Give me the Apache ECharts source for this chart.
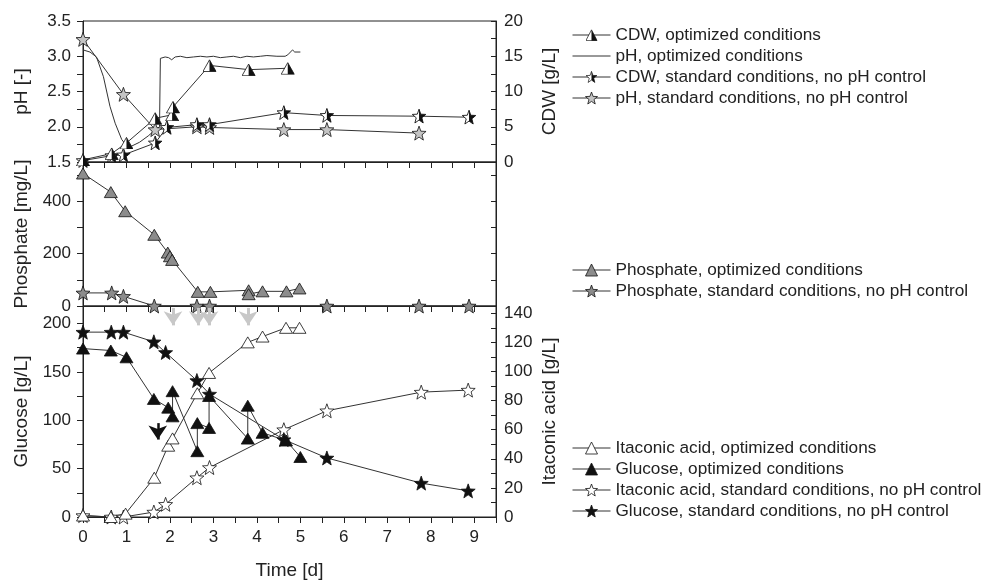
<!DOCTYPE html>
<html>
<head>
<meta charset="utf-8">
<script src="https://cdn.jsdelivr.net/npm/echarts@6.0.0/dist/echarts.min.js"></script>
<style>
  html, body { margin: 0; padding: 0; background: #fff; }
  #chart { width: 990px; height: 581px; }
</style>
</head>
<body>
<div id="chart"></div>
<script>
  // ---- top panel: pH (left) and CDW (right) ----
  var cdwOptT = [0, 0.66, 1.0, 1.66, 2.05, 2.07, 2.91, 3.81, 4.71]
  var cdwOptV = [0.3, 1.2, 2.7, 6.2, 6.7, 7.8, 13.7, 13.1, 13.3]
  var phOptT = [0, 0.16, 0.31, 0.47, 0.62, 0.74, 0.89, 0.99, 1.1, 1.3, 1.5, 1.65, 1.76, 1.78,
    1.89, 1.97, 2.04, 2.12, 2.24, 2.39, 2.54, 2.7, 2.85, 3.0, 3.16, 3.31, 3.46, 3.62, 3.77,
    3.92, 4.08, 4.23, 4.46, 4.65, 4.71, 4.82, 4.87, 5.0]
  var phOptV = [3.09, 3.06, 2.99, 2.71, 2.29, 2.05, 1.82, 1.74, 1.72, 1.78, 1.87, 1.95, 2.0, 2.97,
    2.99, 2.98, 2.95, 2.99, 3.0, 2.98, 2.99, 3.0, 2.99, 3.0, 2.98, 2.99, 3.0, 2.98, 3.0,
    2.99, 3.0, 3.01, 3.0, 3.0, 3.02, 3.09, 3.06, 3.06]
  var cdwStdT = [0, 0.66, 0.93, 1.66, 1.93, 2.62, 2.91, 4.62, 5.61, 7.73, 8.88]
  var cdwStdV = [0.2, 0.9, 1.0, 2.7, 4.9, 5.3, 5.3, 7.0, 6.6, 6.5, 6.35]
  var phStdT = [0, 0.93, 1.66, 2.62, 2.91, 4.62, 5.61, 7.73]
  var phStdV = [3.24, 2.46, 1.96, 2.0, 1.99, 1.96, 1.96, 1.91]

  // ---- middle panel: phosphate ----
  var phosOptT = [0, 0.64, 0.97, 1.64, 1.95, 2.0, 2.05, 2.64, 2.93, 3.81, 3.81, 4.13, 4.68, 4.98]
  var phosOptV = [506, 435, 362, 272, 204, 190, 176, 54, 54, 60, 45, 56, 56, 67]
  var phosStdT = [0, 0.66, 0.93, 1.64, 2.62, 2.91, 5.61, 7.73, 8.88]
  var phosStdV = [50, 50, 37, 0, 0, 0, 0, 0, 0]

  // ---- bottom panel: glucose (left) and itaconic acid (right) ----
  var itaOptT = [0, 0.64, 0.98, 1.64, 1.96, 2.06, 2.63, 2.9, 3.79, 4.13, 4.67, 4.98]
  var itaOptV = [1, 0, 2.3, 27, 49, 54, 85, 99, 120, 124, 130, 130]
  var gluOptT = [0, 0.64, 1.0, 1.63, 1.96, 2.06, 2.06, 2.63, 2.63, 2.9, 2.9, 3.79, 3.79, 4.13, 4.67, 5.0]
  var gluOptV = [174, 172, 165, 122, 113, 104, 130, 68, 97, 92, 125, 81, 115, 87, 79, 62]
  var itaStdT = [0, 0.65, 0.93, 1.63, 1.9, 2.62, 2.91, 4.62, 5.61, 7.78, 8.86]
  var itaStdV = [1, 0, 0, 3.4, 8.7, 27, 34, 60, 73, 85.8, 87.2]
  var gluStdT = [0, 0.65, 0.93, 1.63, 1.9, 2.62, 2.91, 4.62, 5.61, 7.78, 8.86]
  var gluStdV = [191, 191, 191, 181, 170, 141, 127, 80, 61, 35, 27]

  // feeding arrows (time in d, glucose from/to)
  var feedTimes = [2.07, 2.65, 2.9, 3.8]
  var feedFrom = 216
  var feedTo = 198
  var blackArrow = [1.72, 97, 80]

  var FONT = '"Liberation Sans", Arial, Helvetica, sans-serif'
  var INK = '#222'

  var STAR = '0,-50 12.3,-17 47.6,-15.5 20,6.5 29.4,40.5 0,21 -29.4,40.5 -20,6.5 -47.6,-15.5 -12.3,-17'
  var TRI = '0,-46 50,42 -50,42'
  var starPath = 'path://M0,-50L12.3,-17L47.6,-15.5L20,6.5L29.4,40.5L0,21L-29.4,40.5L-20,6.5L-47.6,-15.5L-12.3,-17Z'

  // marker with the left half white and the right half black
  function halfIcon (pts) {
    var svg = "<svg xmlns='http://www.w3.org/2000/svg' viewBox='-53 -53 106 98'>" +
      "<defs><clipPath id='r'><rect x='0' y='-60' width='60' height='120'/></clipPath></defs>" +
      "<polygon points='" + pts + "' fill='#fff'/>" +
      "<polygon points='" + pts + "' fill='#111' clip-path='url(#r)'/>" +
      "<polygon points='" + pts + "' fill='none' stroke='#111' stroke-width='6' stroke-linejoin='round'/></svg>"
    return 'image://data:image/svg+xml;charset=utf-8,' + encodeURIComponent(svg)
  }

  function pairs (t, v) {
    return t.map(function (x, i) { return [x, v[i]] })
  }

  function isMultiple (v, step) {
    return Math.abs(v / step - Math.round(v / step)) < 1e-6
  }

  function xAxisFor (gridIndex, showLabels) {
    return {
      type: 'value', gridIndex: gridIndex, min: 0, max: 9.5, interval: 0.5,
      axisLine: { show: true, onZero: false, lineStyle: { color: INK } },
      axisTick: { show: true, inside: false, length: 6, lineStyle: { color: INK } },
      splitLine: { show: false },
      axisLabel: {
        show: showLabels, color: INK, fontSize: 17, fontFamily: FONT, margin: 12,
        formatter: function (v) { return isMultiple(v, 1) ? String(v) : '' }
      },
      name: showLabels ? 'Time [d]' : '',
      nameLocation: 'middle', nameGap: 44,
      nameTextStyle: { color: INK, fontSize: 19, fontFamily: FONT }
    }
  }

  function yAxisFor (gridIndex, side, min, max, interval, labelStep, name, nameGap, digits) {
    var left = side === 'left'
    return {
      type: 'value', gridIndex: gridIndex, position: side, min: min, max: max, interval: interval,
      axisLine: { show: true, onZero: false, lineStyle: { color: INK } },
      axisTick: { show: true, inside: !left, length: left ? 6 : 5, lineStyle: { color: INK } },
      splitLine: { show: false },
      axisLabel: {
        show: labelStep > 0, color: INK, fontSize: 17, fontFamily: FONT, margin: left ? 12 : 8,
        formatter: function (v) {
          return labelStep > 0 && isMultiple(v, labelStep) ? v.toFixed(digits || 0) : ''
        }
      },
      name: name, nameLocation: 'middle', nameGap: nameGap,
      nameTextStyle: { color: INK, fontSize: 19, fontFamily: FONT }
    }
  }

  function lineSeries (name, xi, yi, data, symbol, size, fill, extra) {
    var s = {
      name: name, type: 'line', xAxisIndex: xi, yAxisIndex: yi, data: data,
      symbol: symbol, symbolSize: size, showAllSymbol: true,
      lineStyle: { color: '#333', width: 1 },
      itemStyle: { color: fill, borderColor: '#111', borderWidth: 0.8 },
      emphasis: { disabled: true },
      z: 3
    }
    return Object.assign(s, extra || {})
  }

  var legendBase = {
    orient: 'vertical', left: 567, itemWidth: 38, itemHeight: 15, itemGap: 3,
    selectedMode: false,
    lineStyle: { width: 1, color: '#333' },
    itemStyle: { borderWidth: 0.8 },
    textStyle: { color: INK, fontSize: 17.2, fontFamily: FONT, lineHeight: 18 }
  }

  var arrowLines = feedTimes.map(function (t) {
    return [
      { coord: [t, feedFrom], lineStyle: { color: '#c8c8c8', width: 3, type: 'solid' } },
      { coord: [t, feedTo], lineStyle: { color: '#c8c8c8', width: 3, type: 'solid' } }
    ]
  })
  arrowLines.push([
    { coord: [blackArrow[0], blackArrow[1]], lineStyle: { color: '#111', width: 2.5, type: 'solid' } },
    { coord: [blackArrow[0], blackArrow[2]], lineStyle: { color: '#111', width: 2.5, type: 'solid' } }
  ])

  var chart = echarts.init(document.getElementById('chart'), null, { renderer: 'canvas' })
  chart.setOption({
    animation: false,
    backgroundColor: '#fff',
    grid: [
      { left: 83, right: 494, top: 21, height: 141, show: true, borderColor: INK, borderWidth: 1 },
      { left: 83, right: 494, top: 162, height: 144, show: true, borderColor: INK, borderWidth: 1 },
      { left: 83, right: 494, top: 306, height: 212, show: true, borderColor: INK, borderWidth: 1 }
    ],
    xAxis: [xAxisFor(0, false), xAxisFor(1, false), xAxisFor(2, true)],
    yAxis: [
      yAxisFor(0, 'left', 1.5, 3.5, 0.25, 0.5, 'pH [-]', 52, 1),
      yAxisFor(0, 'right', 0, 20, 2.5, 5, 'CDW [g/L]', 44),
      yAxisFor(1, 'left', 0, 550, 100, 200, 'Phosphate [mg/L]', 52),
      yAxisFor(1, 'right', 0, 550, 100, 0, '', 0),
      yAxisFor(2, 'left', 0, 218, 25, 50, 'Glucose [g/L]', 52),
      yAxisFor(2, 'right', 0, 145, 10, 20, 'Itaconic acid [g/L]', 44)
    ],
    legend: [
      Object.assign({}, legendBase, {
        top: 21,
        data: ['CDW, optimized conditions',
          { name: 'pH, optimized conditions', itemStyle: { color: 'rgba(0,0,0,0)', borderColor: 'rgba(0,0,0,0)', borderWidth: 0 } },
          'CDW, standard conditions, no pH control', 'pH, standard conditions, no pH control']
      }),
      Object.assign({}, legendBase, {
        top: 256,
        data: ['Phosphate, optimized conditions', 'Phosphate, standard conditions, no pH control']
      }),
      Object.assign({}, legendBase, {
        top: 434,
        data: ['Itaconic acid, optimized conditions', 'Glucose, optimized conditions',
          'Itaconic acid, standard conditions, no pH control', 'Glucose, standard conditions, no pH control']
      })
    ],
    series: [
      lineSeries('pH, optimized conditions', 0, 0, pairs(phOptT, phOptV), 'none', 0, INK, { z: 2 }),
      lineSeries('pH, standard conditions, no pH control', 0, 0, pairs(phStdT, phStdV), starPath, 14, '#c4c4c4'),
      lineSeries('CDW, standard conditions, no pH control', 0, 1, pairs(cdwStdT, cdwStdV), halfIcon(STAR), 15, '#fff'),
      lineSeries('CDW, optimized conditions', 0, 1, pairs(cdwOptT, cdwOptV), halfIcon(TRI), [14, 13], '#fff'),
      lineSeries('Phosphate, standard conditions, no pH control', 1, 2, pairs(phosStdT, phosStdV), starPath, 14, '#8c8c8c'),
      lineSeries('Phosphate, optimized conditions', 1, 2, pairs(phosOptT, phosOptV), 'triangle', [13, 11], '#8c8c8c'),
      lineSeries('Itaconic acid, standard conditions, no pH control', 2, 5, pairs(itaStdT, itaStdV), starPath, 14, '#fff'),
      lineSeries('Itaconic acid, optimized conditions', 2, 5, pairs(itaOptT, itaOptV), 'triangle', [13, 11], '#fff'),
      lineSeries('Glucose, standard conditions, no pH control', 2, 4, pairs(gluStdT, gluStdV), starPath, 14, '#111'),
      lineSeries('Glucose, optimized conditions', 2, 4, pairs(gluOptT, gluOptV), 'triangle', [13, 11], '#111', {
        markLine: {
          silent: true, animation: false,
          symbol: ['none', 'arrow'], symbolSize: 14,
          label: { show: false },
          emphasis: { disabled: true },
          data: arrowLines
        }
      })
    ]
  })
</script>
</body>
</html>
